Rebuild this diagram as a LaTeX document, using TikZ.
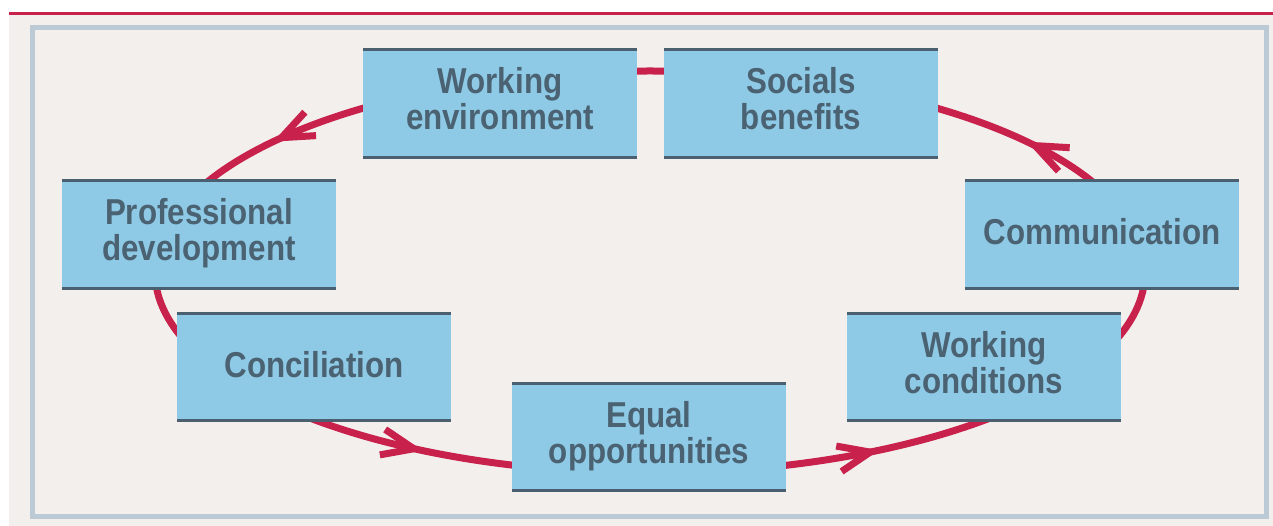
\documentclass[tikz,border=0pt]{standalone}
\usepackage{fontspec}
\newfontfamily\boxfont{Liberation Sans}[FakeStretch=0.87]
\usetikzlibrary{arrows.meta,decorations.markings}
\definecolor{bgbeige}{RGB}{243,239,236}
\definecolor{framegrey}{RGB}{188,202,213}
\definecolor{cyclered}{RGB}{200,33,75}
\definecolor{boxblue}{RGB}{142,202,230}
\definecolor{boxedge}{RGB}{74,96,112}
\definecolor{boxtext}{RGB}{74,98,114}

\begin{document}
\begin{tikzpicture}[x=1pt,y=-1pt,
  item/.style={fill=boxblue, minimum width=274pt, minimum height=107pt, inner sep=0pt,
    align=center, text=boxtext, text height=26pt, text depth=5pt,
    font=\boxfont\bfseries\fontsize{36}{36}\selectfont},
  twolines/.style={text height=62pt, text depth=9pt},
  loopline/.style={draw=cyclered, line width=7pt},
  rule/.style={draw=boxedge, line width=3pt},
  tip/.style={decoration={markings,
    mark=at position 0.081 with {\arrow{Straight Barb[length=32pt,width=26pt,sharp]}},
    mark=at position 0.419 with {\arrow{Straight Barb[length=32pt,width=26pt,sharp]}},
    mark=at position 0.650 with {\arrow{Straight Barb[length=32pt,width=26pt,sharp]}},
    mark=at position 0.851 with {\arrow{Straight Barb[length=32pt,width=26pt,sharp]}}},
    postaction={decorate}}
]
% Page and frame
\useasboundingbox (0,0) rectangle (1273,526);
\fill[white] (0,0) rectangle (1273,526);
\fill[bgbeige] (9,15) rectangle (1273,526);
\fill[cyclered] (9,12) rectangle (1273,15);
\draw[framegrey, line width=5pt] (32.5,27.5) rectangle (1266.5,516.5);

% Cycle behind the boxes
\coordinate (centre) at (650,272);
\draw[loopline, tip]
  (centre) ++(495,0) arc[start angle=0, end angle=-360, x radius=495, y radius=201];

% Topics
\node[item, twolines] (workenv) at (500,103.5) {Working\\environment};
\node[item, twolines] (social) at (801,103.5) {Socials\\benefits};
\node[item, twolines] (profdev) at (199,234.5) {Professional\\development};
\node[item] (comm) at (1102,234.5) {Communication};
\node[item] (concil) at (314,367) {Conciliation};
\node[item, twolines] (workcond) at (984,367) {Working\\conditions};
\node[item, twolines] (equal) at (649,437) {Equal\\opportunities};

% Dark rules on top and bottom of each box
\foreach \n in {workenv,social,profdev,comm,concil,workcond,equal}
  \draw[rule] (\n.north west) -- (\n.north east) (\n.south west) -- (\n.south east);
\end{tikzpicture}
\end{document}
